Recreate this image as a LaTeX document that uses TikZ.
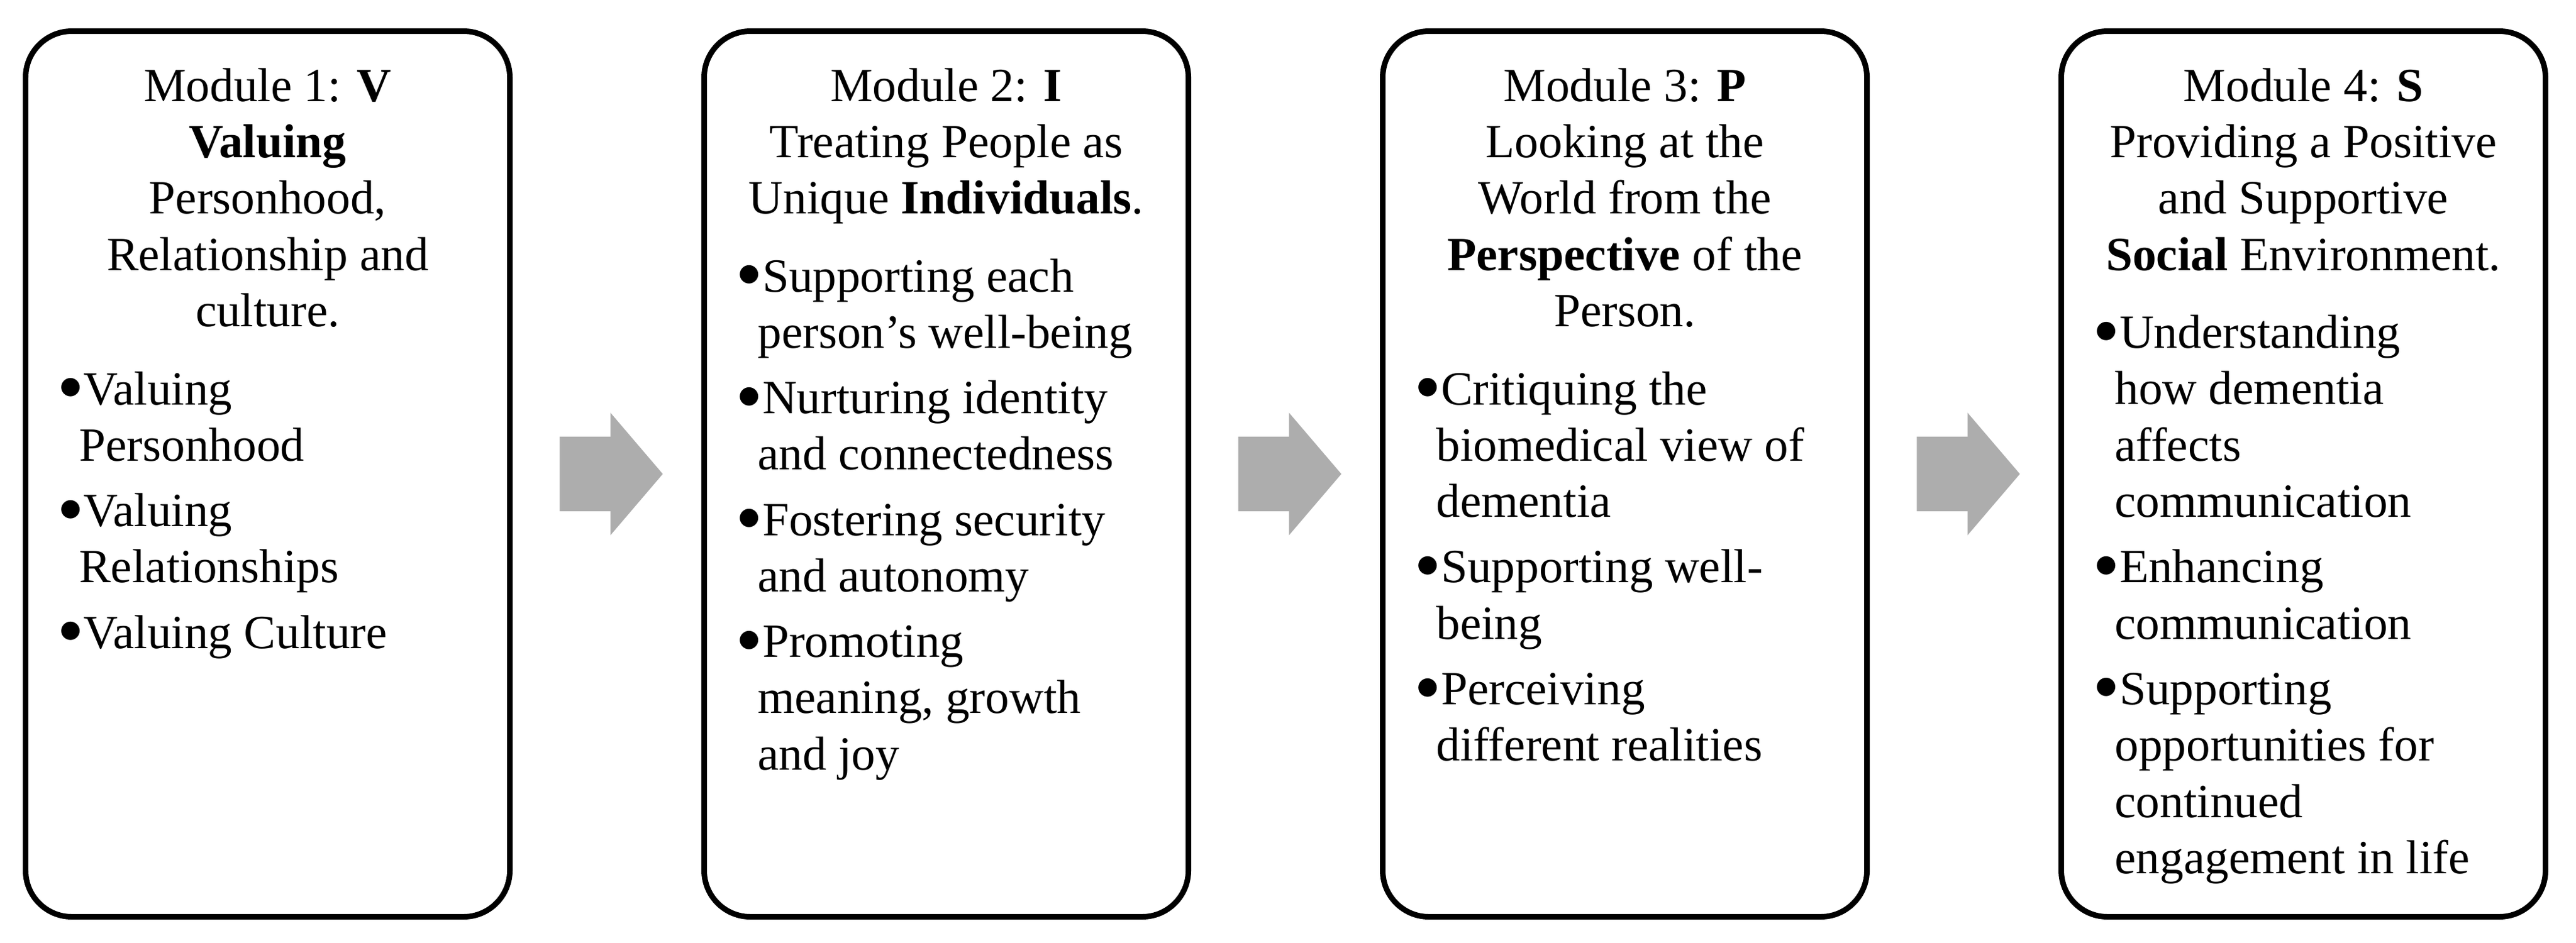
\documentclass[tikz,border=0pt]{standalone}
\usepackage{fontspec}
\setmainfont{Liberation Serif}
\usetikzlibrary{shapes.arrows}
\definecolor{arrowgray}{RGB}{173,173,173}
\newcommand{\modfont}{\fontsize{11}{13}\selectfont}
\newcommand{\modpt}[1]{\par\hangindent=0.165cm\hangafter=1\noindent\raisebox{1.2pt}{\fontsize{10.5}{13}\selectfont$\bullet$}\kern0.3pt#1\par}
\begin{document}
\begin{tikzpicture}[
	modbox/.style={draw, line width=1.28pt, rounded corners=0.375cm, minimum width=3.925cm, minimum height=7.18cm, inner sep=0pt, outer sep=0pt},
	modtitle/.style={inner sep=0pt, anchor=base, font=\modfont},
	modlist/.style={inner sep=0pt, anchor=base west, font=\modfont},
	modarrow/.style={single arrow, fill=arrowgray, draw=none, anchor=tail, inner xsep=0pt, inner ysep=0.295cm, text height=0pt, text depth=0pt, minimum height=0.835cm, single arrow head extend=0.195cm, single arrow tip angle=99}
	]
	\useasboundingbox (0,0) rectangle (20.88,7.64);
	
	\node[modbox] (m1) at (2.17,3.7975) {};
	\node[modbox] (m2) at (7.67,3.7975) {};
	\node[modbox] (m3) at (13.17,3.7975) {};
	\node[modbox] (m4) at (18.67,3.7975) {};
	
	\node[modtitle] (t1) at (2.17,6.82) {\begin{tabular}[t]{@{}c@{}}Module 1: \textbf{V}\\ \textbf{Valuing}\\ Personhood,\\ Relationship and\\ culture.\end{tabular}};
	\node[modtitle] (t2) at (7.67,6.82) {\begin{tabular}[t]{@{}c@{}}Module 2: \textbf{I}\\ Treating People as\\ Unique \textbf{Individuals}.\end{tabular}};
	\node[modtitle] (t3) at (13.17,6.82) {\begin{tabular}[t]{@{}c@{}}Module 3: \textbf{P}\\ Looking at the\\ World from the\\ \textbf{Perspective} of the\\ Person.\end{tabular}};
	\node[modtitle] (t4) at (18.67,6.82) {\begin{tabular}[t]{@{}c@{}}Module 4: \textbf{S}\\ Providing a Positive\\ and Supportive\\ \textbf{Social} Environment.\end{tabular}};
	
	\node[modlist] (l1) at (0.47,4.36) {\parbox[t]{3.6cm}{\modfont\setlength{\parskip}{2.1pt}
		\modpt{Valuing\\Personhood}
		\modpt{Valuing\\Relationships}
		\modpt{Valuing Culture}}};
	\node[modlist] (l2) at (5.97,5.275) {\parbox[t]{3.6cm}{\modfont\setlength{\parskip}{2.1pt}
		\modpt{Supporting each\\person's well-being}
		\modpt{Nurturing identity\\and connectedness}
		\modpt{Fostering security\\and autonomy}
		\modpt{Promoting\\meaning, growth\\and joy}}};
	\node[modlist] (l3) at (11.47,4.36) {\parbox[t]{3.6cm}{\modfont\setlength{\parskip}{2.1pt}
		\modpt{Critiquing the\\biomedical view of\\dementia}
		\modpt{Supporting well-\\being}
		\modpt{Perceiving\\different realities}}};
	\node[modlist] (l4) at (16.97,4.8175) {\parbox[t]{3.6cm}{\modfont\setlength{\parskip}{2.1pt}
		\modpt{Understanding\\how dementia\\affects\\communication}
		\modpt{Enhancing\\communication}
		\modpt{Supporting\\opportunities for\\continued\\engagement in life}}};
	
	\node[modarrow] (a1) at (4.53,3.7975) {};
	\node[modarrow] (a2) at (10.03,3.7975) {};
	\node[modarrow] (a3) at (15.53,3.7975) {};
\end{tikzpicture}
\end{document}
